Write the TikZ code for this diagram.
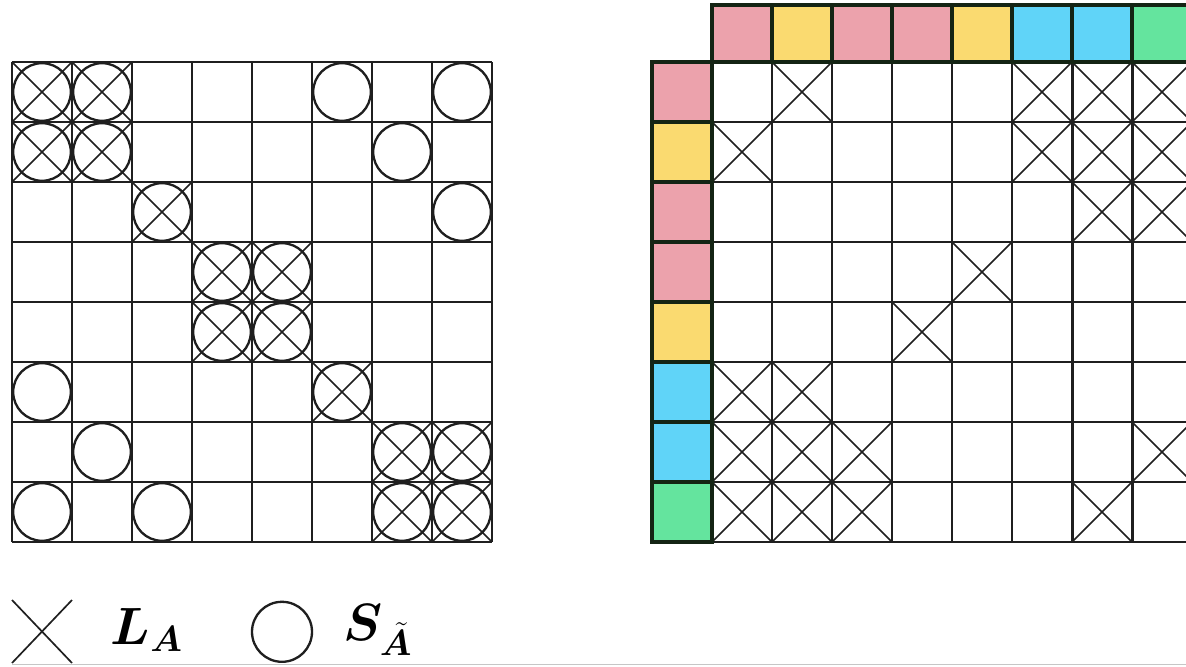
\documentclass[tikz,border=0pt]{standalone}
\usepackage{bm}
\definecolor{cellpink}{RGB}{236,162,172}
\definecolor{cellyellow}{RGB}{250,218,112}
\definecolor{cellblue}{RGB}{96,212,248}
\definecolor{cellgreen}{RGB}{100,228,158}
\definecolor{celledge}{RGB}{20,36,20}
\begin{document}
\begin{tikzpicture}[
    x=1cm, y=-1cm,
    gridline/.style={line width=1.4pt, black!88},
    crossmark/.style={line width=0.8pt, black!88},
    ringmark/.style={line width=1.1pt, black!88},
    colorcell/.style={draw=celledge, line width=1.9pt},
    legendtext/.style={inner sep=0pt, font=\fontsize{26}{30}\selectfont}
]
\clip (0,0) rectangle (19.767,11.1);
\fill[white] (0,0) rectangle (19.767,11.1);

% Left matrix
\begin{scope}[shift={(0.2,1.033)}]
  \draw[gridline] (0,0) grid (8,8);
  \foreach \r/\c in {0/0,0/1,1/0,1/1,2/2,3/3,3/4,4/3,4/4,5/5,6/6,6/7,7/6,7/7}
    \draw[crossmark] (\c,\r) -- ++(1,1) (\c+1,\r) -- ++(-1,1);
  \foreach \r/\c in {0/0,0/1,1/0,1/1,2/2,3/3,3/4,4/3,4/4,5/5,6/6,6/7,7/6,7/7,
                     0/5,0/7,1/6,2/7,5/0,6/1,7/0,7/2}
    \draw[ringmark] (\c+0.5,\r+0.5) circle[radius=0.48];
\end{scope}

% Right matrix, permuted
\begin{scope}[shift={(11.867,1.033)}]
  \draw[gridline] (0,0) grid (8,8);
  \foreach \r/\c in {0/1,0/5,0/6,0/7,1/0,1/5,1/6,1/7,2/6,2/7,3/4,4/3,
                     5/0,5/1,6/0,6/1,6/2,6/7,7/0,7/1,7/2,7/6}
    \draw[crossmark] (\c,\r) -- ++(1,1) (\c+1,\r) -- ++(-1,1);
  % colour labels of rows and columns
  \foreach \col [count=\i from 0] in {cellpink,cellyellow,cellpink,cellpink,
                                       cellyellow,cellblue,cellblue,cellgreen}{
    \filldraw[colorcell, fill=\col] (-1,\i) rectangle (0,\i+1);
    \filldraw[colorcell, fill=\col] (\i,-0.95) rectangle (\i+1,0);
  }
\end{scope}

% Legend
\draw[crossmark] (0.2,10.0) -- (1.2,11.05) (1.2,10.0) -- (0.2,11.05);
\node[legendtext] (lgL) at (2.45,10.5) {$\bm{L}_{\bm{A}}$};
\draw[ringmark] (4.7,10.53) circle[radius=0.5];
\node[legendtext] (lgS) at (6.3,10.5) {$\bm{S}_{\tilde{\bm{A}}}$};
\draw[gray!45, line width=0.6pt] (0.2,11.08) -- (19.767,11.08);
\end{tikzpicture}
\end{document}
